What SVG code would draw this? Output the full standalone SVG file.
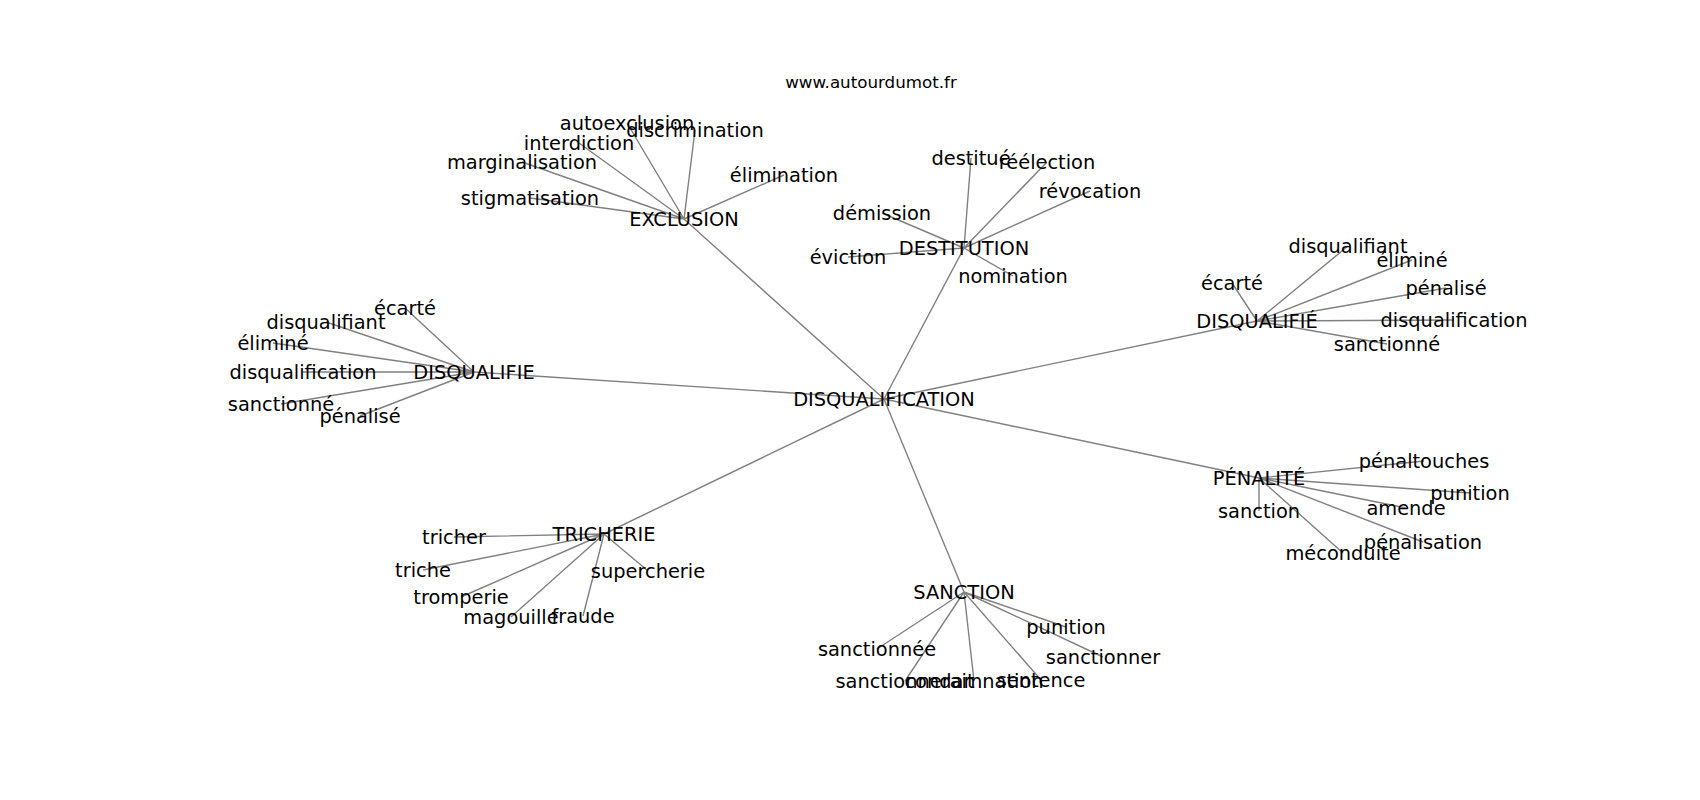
<svg xmlns="http://www.w3.org/2000/svg" width="1700" height="800" viewBox="0 0 1700 800">
<style>
.e{stroke:#808080;stroke-width:1.4;fill:none}
text{font-family:"DejaVu Sans",sans-serif;font-size:19.4px;fill:#000;text-anchor:middle}
.t{font-size:16.7px}
</style>
<rect width="1700" height="800" fill="#fff"/>
<text class="t" x="871" y="88">www.autourdumot.fr</text>
<g id="edges">
<path class="e" d="M884,399L684,219M884,399L964,248M884,399L1257,321M884,399L1259,478M884,399L964,592M884,399L604,534M884,399L474,372"/>
<path class="e" d="M684,219L627,123M684,219L695,130M684,219L579,143M684,219L522,162M684,219L784,175M684,219L530,198"/>
<path class="e" d="M964,248L971,158M964,248L1047,162M964,248L1090,191M964,248L882,213M964,248L848,257M964,248L1013,276"/>
<path class="e" d="M1257,321L1348,246M1257,321L1412,260M1257,321L1232,283M1257,321L1446,288M1257,321L1454,320M1257,321L1387,344"/>
<path class="e" d="M474,372L405,308M474,372L326,322M474,372L273,343M474,372L303,372M474,372L281,404M474,372L360,416"/>
<path class="e" d="M1259,478L1424,461M1259,478L1470,493M1259,478L1406,508M1259,478L1423,542M1259,478L1343,553M1259,478L1259,511"/>
<path class="e" d="M604,534L454,537M604,534L423,570M604,534L648,571M604,534L461,597M604,534L511,617M604,534L583,616"/>
<path class="e" d="M964,592L877,649M964,592L905,681M964,592L974,681M964,592L1041,680M964,592L1066,627M964,592L1103,657"/>
</g>
<g id="n-disqualification"><text x="884" y="406">DISQUALIFICATION</text></g>
<g id="n-exclusion"><text x="684" y="226">EXCLUSION</text>
<text x="627" y="130">autoexclusion</text>
<text x="695" y="137">discrimination</text>
<text x="579" y="150">interdiction</text>
<text x="522" y="169">marginalisation</text>
<text x="784" y="182">élimination</text>
<text x="530" y="205">stigmatisation</text></g>
<g id="n-destitution"><text x="964" y="255">DESTITUTION</text>
<text x="971" y="165">destitué</text>
<text x="1047" y="169">réélection</text>
<text x="1090" y="198">révocation</text>
<text x="882" y="220">démission</text>
<text x="848" y="264">éviction</text>
<text x="1013" y="283">nomination</text></g>
<g id="n-disqualifie-acc"><text x="1257" y="328">DISQUALIFIÉ</text>
<text x="1348" y="253">disqualifiant</text>
<text x="1412" y="267">éliminé</text>
<text x="1232" y="290">écarté</text>
<text x="1446" y="295">pénalisé</text>
<text x="1454" y="327">disqualification</text>
<text x="1387" y="351">sanctionné</text></g>
<g id="n-disqualifie"><text x="474" y="379">DISQUALIFIE</text>
<text x="405" y="315">écarté</text>
<text x="326" y="329">disqualifiant</text>
<text x="273" y="350">éliminé</text>
<text x="303" y="379">disqualification</text>
<text x="281" y="411">sanctionné</text>
<text x="360" y="423">pénalisé</text></g>
<g id="n-penalite"><text x="1259" y="485">PÉNALITÉ</text>
<text x="1424" y="468">pénaltouches</text>
<text x="1470" y="500">punition</text>
<text x="1406" y="515">amende</text>
<text x="1423" y="549">pénalisation</text>
<text x="1343" y="560">méconduite</text>
<text x="1259" y="518">sanction</text></g>
<g id="n-tricherie"><text x="604" y="541">TRICHERIE</text>
<text x="454" y="544">tricher</text>
<text x="423" y="577">triche</text>
<text x="648" y="578">supercherie</text>
<text x="461" y="604">tromperie</text>
<text x="511" y="624">magouille</text>
<text x="583" y="623">fraude</text></g>
<g id="n-sanction"><text x="964" y="599">SANCTION</text>
<text x="877" y="656">sanctionnée</text>
<text x="905" y="688">sanctionnerait</text>
<text x="974" y="688">condamnation</text>
<text x="1041" y="687">sentence</text>
<text x="1066" y="634">punition</text>
<text x="1103" y="664">sanctionner</text></g>
</svg>
